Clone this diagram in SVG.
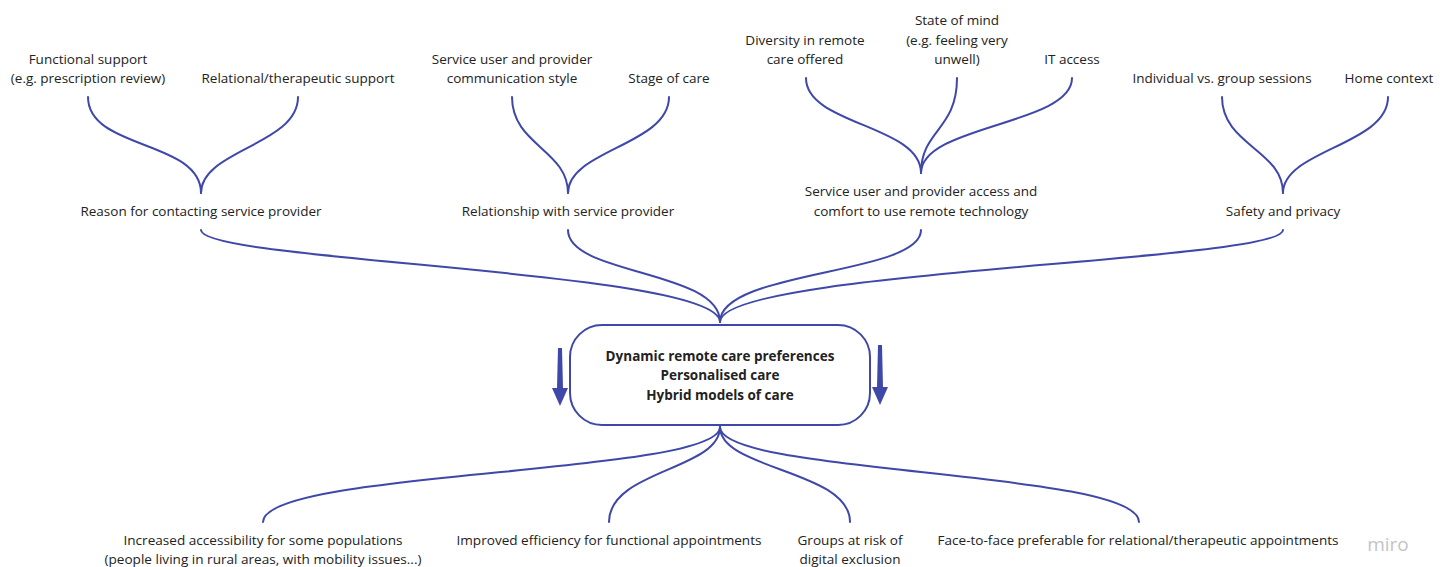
<svg xmlns="http://www.w3.org/2000/svg" width="1447" height="567" viewBox="0 0 1447 567">
<style>
.t{font-family:"Open Sans","Liberation Sans",sans-serif;font-size:13.5px;fill:#222222;text-anchor:middle}
.b{font-weight:bold;font-size:13.5px}
.c{fill:none;stroke:#3f48a8;stroke-width:2;stroke-linecap:round}
.a{fill:#3f48a8}
</style>
<rect width="1447" height="567" fill="#ffffff"/>
<g id="connectors">
<path class="c" d="M88,97 C88,150 201,140 201,193"/>
<path class="c" d="M298,97 C298,145 201,150 201,193"/>
<path class="c" d="M512,97 C512,145 568,150 568,193"/>
<path class="c" d="M669,97 C669,145 568,150 568,193"/>
<path class="c" d="M806,78 C806,125 921,125 921,173"/>
<path class="c" d="M957,78 C957,130 921,130 921,173"/>
<path class="c" d="M1072,78 C1072,125 921,125 921,173"/>
<path class="c" d="M1222,97 C1222,145 1283,150 1283,193"/>
<path class="c" d="M1388,97 C1388,145 1283,150 1283,193"/>
<path class="c" d="M201,230 C201,262 720,270 720,322"/>
<path class="c" d="M568,230 C568,275 720,270 720,322"/>
<path class="c" d="M921,230 C921,275 720,270 720,322"/>
<path class="c" d="M1283,230 C1283,262 720,270 720,322"/>
<path class="c" d="M720,427 C720,475 263,470 263,522"/>
<path class="c" d="M720,427 C720,470 609,470 609,522"/>
<path class="c" d="M720,427 C720,470 850,470 850,522"/>
<path class="c" d="M720,427 C720,475 1139,470 1139,522"/>
</g>
<g id="n-functional"><text class="t" x="88" y="64">Functional support</text><text class="t" x="88" y="83">(e.g. prescription review)</text></g>
<g id="n-relational"><text class="t" x="298" y="83">Relational/therapeutic support</text></g>
<g id="n-commstyle"><text class="t" x="512" y="64">Service user and provider</text><text class="t" x="512" y="83">communication style</text></g>
<g id="n-stage"><text class="t" x="669" y="83">Stage of care</text></g>
<g id="n-diversity"><text class="t" x="805" y="45">Diversity in remote</text><text class="t" x="805" y="64">care offered</text></g>
<g id="n-state"><text class="t" x="957" y="25">State of mind</text><text class="t" x="957" y="45">(e.g. feeling very</text><text class="t" x="957" y="64">unwell)</text></g>
<g id="n-it"><text class="t" x="1072" y="64">IT access</text></g>
<g id="n-individual"><text class="t" x="1222" y="83">Individual vs. group sessions</text></g>
<g id="n-home"><text class="t" x="1389" y="83">Home context</text></g>
<g id="n-reason"><text class="t" x="201" y="216">Reason for contacting service provider</text></g>
<g id="n-relationship"><text class="t" x="568" y="216">Relationship with service provider</text></g>
<g id="n-access"><text class="t" x="921" y="196">Service user and provider access and</text><text class="t" x="921" y="216">comfort to use remote technology</text></g>
<g id="n-safety"><text class="t" x="1283" y="216">Safety and privacy</text></g>
<g id="n-center">
<rect x="570" y="325" width="300" height="100" rx="32" ry="32" fill="#ffffff" stroke="#3f48a8" stroke-width="2"/>
<text class="t b" x="720" y="361">Dynamic remote care preferences</text>
<text class="t b" x="720" y="380">Personalised care</text>
<text class="t b" x="720" y="400">Hybrid models of care</text>
</g>
<g id="arrow-left"><polygon class="a" points="558,348 562,348 563,388 568,388 560,406 552,388 557,388"/></g>
<g id="arrow-right"><polygon class="a" points="878,345 882,345 883,387 888,387 880,405 872,387 877,387"/></g>
<g id="n-accessibility"><text class="t" x="263" y="545" textLength="279" lengthAdjust="spacingAndGlyphs">Increased accessibility for some populations</text><text class="t" x="263" y="564" textLength="317" lengthAdjust="spacingAndGlyphs">(people living in rural areas, with mobility issues...)</text></g>
<g id="n-efficiency"><text class="t" x="609" y="545" textLength="305" lengthAdjust="spacingAndGlyphs">Improved efficiency for functional appointments</text></g>
<g id="n-groups"><text class="t" x="850" y="545" textLength="105" lengthAdjust="spacingAndGlyphs">Groups at risk of</text><text class="t" x="850" y="564" textLength="101" lengthAdjust="spacingAndGlyphs">digital exclusion</text></g>
<g id="n-face"><text class="t" x="1138" y="545" textLength="401" lengthAdjust="spacingAndGlyphs">Face-to-face preferable for relational/therapeutic appointments</text></g>
<text x="1388" y="551" font-family="Open Sans, Liberation Sans, sans-serif" font-size="19" fill="#c4c4c4" text-anchor="middle">miro</text>
</svg>
